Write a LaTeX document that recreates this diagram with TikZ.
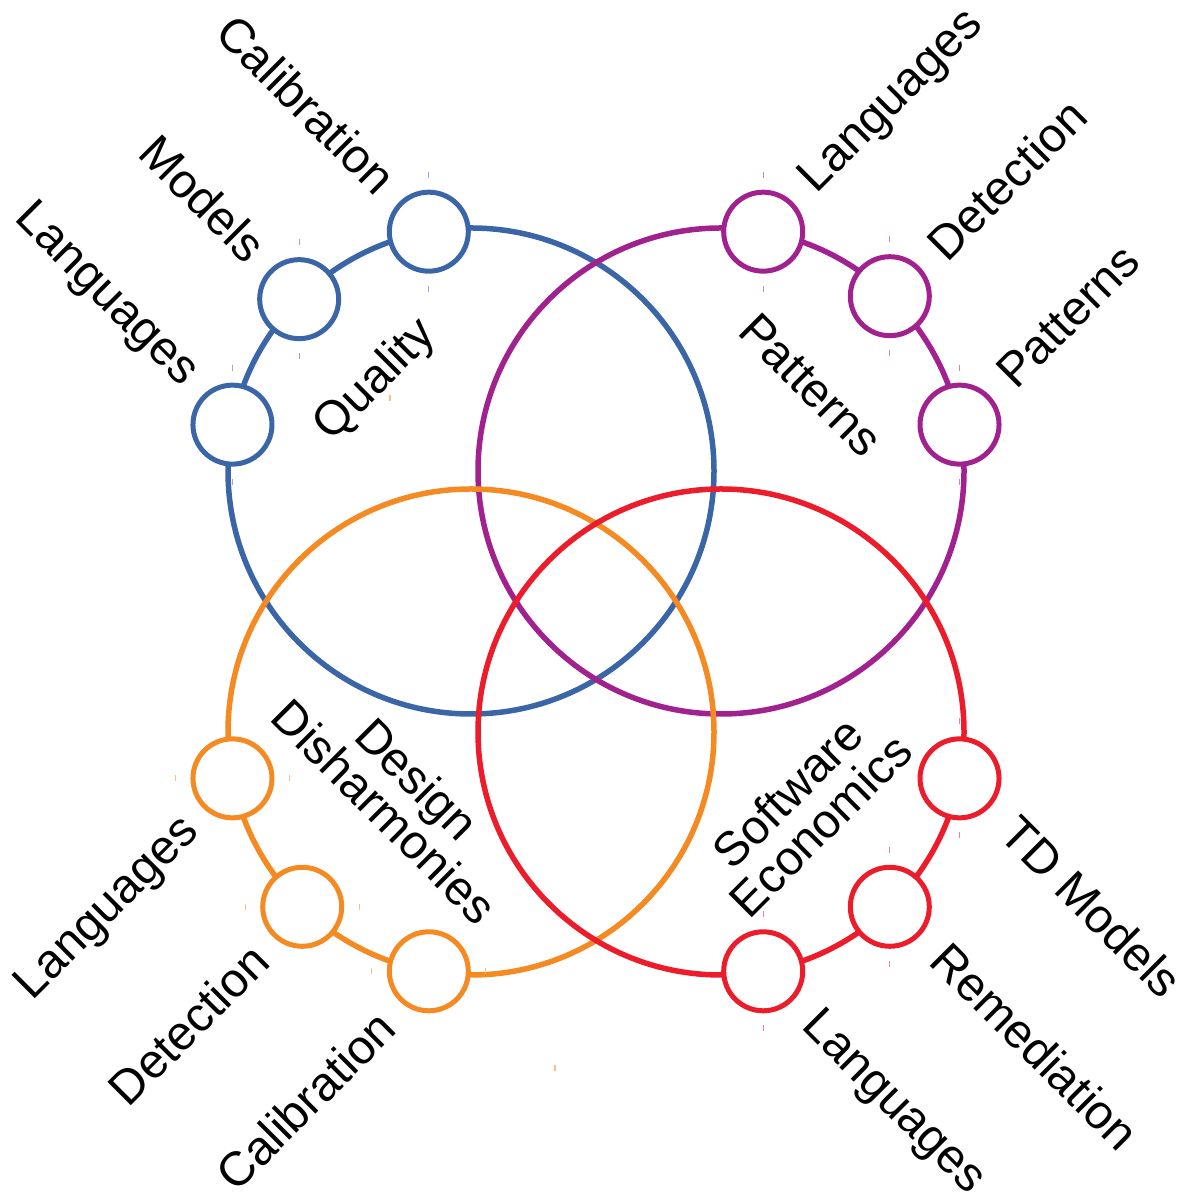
\documentclass[tikz,border=0pt]{standalone}
\usepackage{fontspec}
\setmainfont{Liberation Sans}
\usetikzlibrary{positioning,calc}
\definecolor{qblue}{HTML}{3A65A7}
\definecolor{ppurple}{HTML}{A1228E}
\definecolor{dorange}{HTML}{F48A21}
\definecolor{ered}{HTML}{EC1C2A}
\tikzset{
  bigring/.style={draw=#1,circle,line width=5.5pt,minimum size=486pt,
                  inner sep=0pt,outer sep=0pt},
  knot/.style={draw=#1,fill=white,circle,line width=5pt,minimum size=79pt,
               inner sep=0pt,outer sep=0pt},
  leaf/.style={font=\fontsize{48}{48}\selectfont,inner sep=0pt},
  topic/.style={font=\fontsize{48}{46}\selectfont,align=center,inner sep=0pt},
  tickmark/.style={draw=#1!55,line width=1.2pt}
}

\begin{document}
\begin{tikzpicture}[x=1pt,y=1pt]
  \useasboundingbox (0,0) rectangle (1191,1199);

  % the four topics
  \node[bigring=qblue] (quality) at (471,728) {};
  \node[bigring=ppurple] (patterns) at (721,728) {};
  \node[bigring=dorange] (design) at (471,467) {};
  \node[bigring=ered] (economics) at (721,467) {};

  % quality
  \node[knot=qblue] (q1) at (quality.100) {};
  \node[knot=qblue] (q2) at (quality.135) {};
  \node[knot=qblue] (q3) at (quality.169) {};
  \node[leaf,rotate=-45,anchor=east] (q1l) at ($(q1)+(-41,46)$) {Calibration};
  \node[leaf,rotate=-45,anchor=east] (q2l) at ($(q2)+(-41,46)$) {Models};
  \node[leaf,rotate=-45,anchor=east] (q3l) at ($(q3)+(-43,45)$) {Languages};
  \node[topic,rotate=45] (qname) at (376,818) {Quality};

  % patterns
  \node[knot=ppurple] (p1) at (patterns.80) {};
  \node[knot=ppurple] (p2) at (patterns.46) {};
  \node[knot=ppurple] (p3) at (patterns.11) {};
  \node[leaf,rotate=45,anchor=west] (p1l) at ($(p1)+(45,45)$) {Languages};
  \node[leaf,rotate=45,anchor=west] (p2l) at ($(p2)+(45,45)$) {Detection};
  \node[leaf,rotate=45,anchor=west] (p3l) at ($(p3)+(45,45)$) {Patterns};
  \node[topic,rotate=-45] (pname) at (811,814) {Patterns};

  % design disharmonies
  \node[knot=dorange] (d1) at (design.191) {};
  \node[knot=dorange] (d2) at (design.226) {};
  \node[knot=dorange] (d3) at (design.260) {};
  \node[leaf,rotate=45,anchor=east] (d1l) at ($(d1)+(-40,-47)$) {Languages};
  \node[leaf,rotate=45,anchor=east] (d2l) at ($(d2)+(-42,-46)$) {Detection};
  \node[leaf,rotate=45,anchor=east] (d3l) at ($(d3)+(-42,-48)$) {Calibration};
  \node[topic,rotate=-45] (dname) at (401,404) {Design\\Disharmonies};

  % software economics
  \node[knot=ered] (e1) at (economics.349) {};
  \node[knot=ered] (e2) at (economics.314) {};
  \node[knot=ered] (e3) at (economics.280) {};
  \node[leaf,rotate=-45,anchor=west] (e1l) at ($(e1)+(50,-46)$) {TD Models};
  \node[leaf,rotate=-45,anchor=west] (e2l) at ($(e2)+(50,-44)$) {Remediation};
  \node[leaf,rotate=-45,anchor=west] (e3l) at ($(e3)+(45,-48)$) {Languages};
  \node[topic,rotate=45] (ename) at (804,390) {Software\\Economics};

  % small marks beside the knots
  \draw[tickmark=qblue] ($(q1)+(0,54)$) -- ++(0,6) ($(q1)+(0,-60)$) -- ++(0,6);
  \draw[tickmark=qblue] ($(q2)+(0,54)$) -- ++(0,6) ($(q2)+(0,-60)$) -- ++(0,6);
  \draw[tickmark=qblue] ($(q3)+(0,54)$) -- ++(0,6) ($(q3)+(0,-60)$) -- ++(0,6);
  \draw[tickmark=ppurple] ($(p1)+(0,54)$) -- ++(0,6) ($(p1)+(0,-60)$) -- ++(0,6);
  \draw[tickmark=ppurple] ($(p2)+(0,54)$) -- ++(0,6) ($(p2)+(0,-60)$) -- ++(0,6);
  \draw[tickmark=ppurple] ($(p3)+(0,54)$) -- ++(0,6) ($(p3)+(0,-60)$) -- ++(0,6);
  \draw[tickmark=dorange] ($(d1)+(-57,-3)$) -- ++(0,6) ($(d1)+(57,-3)$) -- ++(0,6);
  \draw[tickmark=dorange] ($(d2)+(-57,-3)$) -- ++(0,6) ($(d2)+(57,-3)$) -- ++(0,6);
  \draw[tickmark=dorange] ($(d3)+(-57,-3)$) -- ++(0,6) ($(d3)+(57,-3)$) -- ++(0,6);
  \draw[tickmark=ered] ($(e1)+(0,54)$) -- ++(0,6) ($(e1)+(0,-60)$) -- ++(0,6);
  \draw[tickmark=ered] ($(e2)+(0,54)$) -- ++(0,6) ($(e2)+(0,-60)$) -- ++(0,6);
  \draw[tickmark=ered] ($(e3)+(0,54)$) -- ++(0,6) ($(e3)+(0,-60)$) -- ++(0,6);
  \draw[tickmark=dorange] (390,798) -- ++(0,6);
  \draw[tickmark=dorange] (555,128) -- ++(0,6);
\end{tikzpicture}
\end{document}
